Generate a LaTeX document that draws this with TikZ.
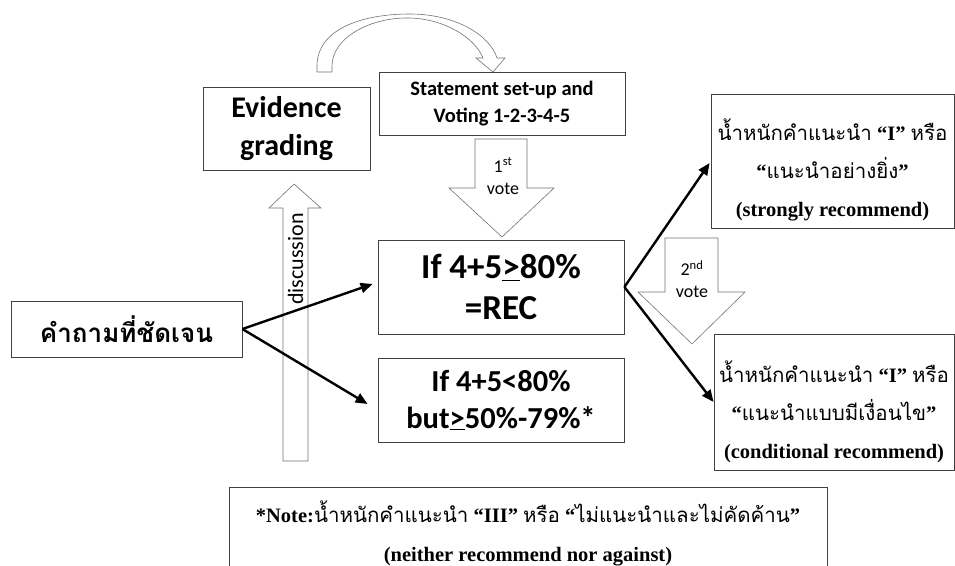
\documentclass[tikz,border=0pt]{standalone}
\usepackage{fontspec}
\setmainfont{Liberation Serif}
\newfontfamily\calfont{Carlito}
\newfontfamily\thaifont[Script=Thai]{Loma}
\usetikzlibrary{arrows.meta}

\begin{document}
\begin{tikzpicture}[x=1pt,y=-1pt,
    box/.style={draw=black!75,line width=0.8pt,inner sep=0pt,align=center},
    blockarrow/.style={draw=black!55,fill=white,line width=0.6pt},
    flow/.style={line width=2.4pt,-{Triangle[length=12pt,width=10pt]}},
    smalltext/.style={font=\calfont\fontsize{18}{22}\selectfont,align=center,inner sep=0pt}]
    \useasboundingbox (0,0) rectangle (955,565);
    \clip (0,0) rectangle (955,565);

    % curved arrow from grading to set-up
    \draw[blockarrow] (317,72) -- (317,66) .. controls (317,30) and (360,14) .. (410,14)
        .. controls (455,14) and (490,35) .. (497,58) -- (505,58) -- (493,72) -- (476,58) -- (483,58)
        .. controls (475,38) and (445,19) .. (410,18) .. controls (370,17) and (332,38) .. (332,66)
        -- (332,72) -- cycle;

    % discussion arrow
    \draw[blockarrow] (283,461) -- (283,208) -- (269,208) -- (294,184) -- (321,208) -- (308,208)
        -- (308,461) -- cycle;
    \node[smalltext,rotate=90,font=\calfont\fontsize{22}{26}\selectfont] (disc) at (295.5,259) {discussion};

    % first vote arrow
    \draw[blockarrow] (475,139) -- (527,139) -- (527,188) -- (554,188) -- (502,237) -- (449,188)
        -- (475,188) -- cycle;
    \node[smalltext] (vote1) at (503,176) {1\textsuperscript{st}\\vote};

    % second vote arrow
    \draw[blockarrow] (665,238) -- (718,238) -- (718,292) -- (745,292) -- (692,344) -- (638,292)
        -- (665,292) -- cycle;
    \node[smalltext] (vote2) at (692,279) {2\textsuperscript{nd}\\vote};

    % boxes
    \node[box,minimum width=167pt,minimum height=83pt,font=\calfont\bfseries\fontsize{30}{38}\selectfont]
        (grading) at (286.5,128.5) {Evidence\\grading};
    \node[box,minimum width=246pt,minimum height=63pt,font=\calfont\bfseries\fontsize{20.5}{27}\selectfont]
        (setup) at (502,103.5) {Statement set-up and\\Voting 1-2-3-4-5};
    \node[box,minimum width=246pt,minimum height=94pt,font=\calfont\bfseries\fontsize{35}{41}\selectfont]
        (rec) at (501,287) {If 4+5\underline{>}80\%\\=REC};
    \node[box,minimum width=246pt,minimum height=84pt,font=\calfont\bfseries\fontsize{30.5}{37}\selectfont]
        (low) at (501,400) {If 4+5<80\%\\but\underline{>}50\%-79\%*};
    \node[box,minimum width=231pt,minimum height=56pt,font=\thaifont\bfseries\fontsize{26}{30}\selectfont]
        (question) at (126.5,329) {คำถามที่ชัดเจน};
    \node[box,minimum width=243pt,minimum height=134pt,font=\bfseries\fontsize{20.5}{38}\selectfont]
        (strong) at (832.5,161) {\rule{0pt}{40pt}{\thaifont\mdseries น้ำหนักคำแนะนำ} “I” {\thaifont\mdseries หรือ}\\
        “{\thaifont\mdseries แนะนำอย่างยิ่ง}”\\(strongly recommend)};
    \node[box,minimum width=240pt,minimum height=136pt,font=\bfseries\fontsize{20.5}{38}\selectfont]
        (cond) at (834,402) {\rule{0pt}{42pt}{\thaifont\mdseries น้ำหนักคำแนะนำ} “I” {\thaifont\mdseries หรือ}\\
        “{\thaifont\mdseries แนะนำแบบมีเงื่อนไข}”\\(conditional recommend)};
    \node[box,minimum width=598pt,minimum height=93pt,font=\bfseries\fontsize{20.5}{39}\selectfont]
        (note) at (528,533.5) {*Note:{\thaifont\mdseries น้ำหนักคำแนะนำ} “III” {\thaifont\mdseries หรือ}
        “{\thaifont\mdseries ไม่แนะนำและไม่คัดค้าน}”\\(neither recommend nor against)};

    % flow arrows
    \draw[flow] (question.east) -- ([xshift=-5pt,yshift=3pt]rec.west);
    \draw[flow] (question.east) -- ([xshift=-10pt,yshift=-4pt]low.west);
    \draw[flow] (rec.east) -- ([xshift=-1pt,yshift=-2pt]strong.west);
    \draw[flow] (rec.east) -- (cond.west);
\end{tikzpicture}
\end{document}
